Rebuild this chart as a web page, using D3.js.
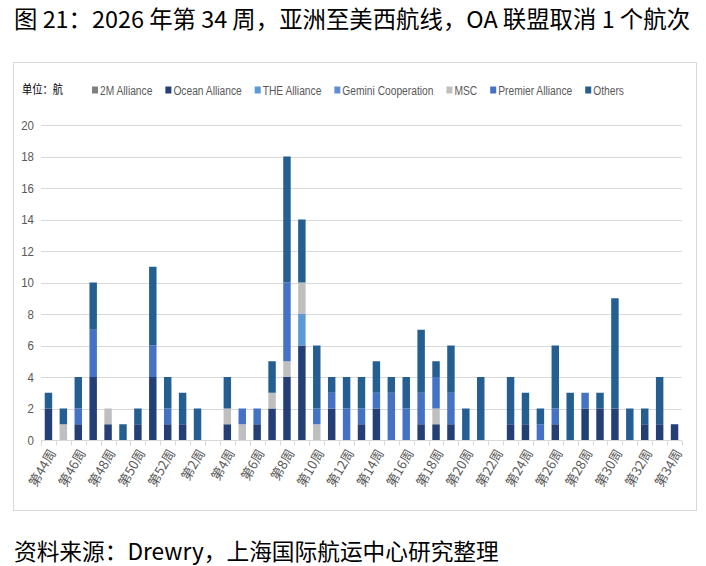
<!DOCTYPE html>
<html>
<head>
<meta charset="utf-8">
<script src="https://cdn.jsdelivr.net/npm/d3@7"></script>
<style>
  body { margin: 0; background: #fff; }
  svg { display: block; }
</style>
</head>
<body>
<div id="chart"></div>
<script>
// weeks 44-52 of 2025, then 1-34 of 2026
const weeks = ["第44周","第45周","第46周","第47周","第48周","第49周","第50周","第51周","第52周",
  "第1周","第2周","第3周","第4周","第5周","第6周","第7周","第8周","第9周","第10周","第11周",
  "第12周","第13周","第14周","第15周","第16周","第17周","第18周","第19周","第20周","第21周",
  "第22周","第23周","第24周","第25周","第26周","第27周","第28周","第29周","第30周","第31周",
  "第32周","第33周","第34周"]

const seriesNames = ["2M Alliance", "Ocean Alliance", "THE Alliance", "Gemini Cooperation", "MSC", "Premier Alliance", "Others"]
const seriesColors = ["#7f7f7f", "#233f75", "#5b9bd5", "#5f8fd1", "#bfbfbf", "#4472c4", "#255e91"]

// blank sailings per alliance
const m2 =      [0,0,0,0,0,0,0,0,0, 0,0,0,0,0,0,0,0,0,0,0, 0,0,0,0,0,0,0,0,0,0, 0,0,0,0,0,0,0,0,0,0, 0,0,0]
const ocean =   [2,0,1,4,1,0,1,4,1, 1,0,0,1,0,1,2,4,6,0,2, 0,1,2,0,0,1,1,1,0,0, 0,1,1,0,1,0,2,2,2,0, 1,1,1]
const theAll =  [0,0,0,0,0,0,0,0,0, 0,0,0,0,0,0,0,0,2,0,0, 0,0,0,0,0,0,0,0,0,0, 0,0,0,0,0,0,0,0,0,0, 0,0,0]
const gemini =  [0,0,0,0,0,0,0,0,0, 0,0,0,0,0,0,0,0,0,0,0, 0,0,0,0,0,0,0,0,0,0, 0,0,0,0,0,0,0,0,0,0, 0,0,0]
const msc =     [0,1,0,0,1,0,0,0,0, 0,0,0,1,1,0,1,1,2,1,0, 0,0,0,0,0,0,1,0,0,0, 0,0,0,0,0,0,0,0,0,0, 0,0,0]
const premier = [0,0,1,3,0,0,0,2,1, 0,0,0,0,1,1,0,5,0,1,1, 2,1,1,3,2,2,2,2,0,0, 0,0,0,1,1,0,1,0,0,0, 0,0,0]
const others =  [1,1,2,3,0,1,1,5,2, 2,2,0,2,0,0,2,8,4,4,1, 2,2,2,1,2,4,1,3,2,4, 0,3,2,1,4,3,0,1,7,2, 1,3,0]

const yTicks = [0, 2, 4, 6, 8, 10, 12, 14, 16, 18, 20]

const allSeries = [m2, ocean, theAll, gemini, msc, premier, others]

const width = 706
const height = 566
const margin = { left: 41, right: 24, top: 125, bottom: 126 }

const svg = d3.select("#chart").append("svg")
  .attr("width", width)
  .attr("height", height)

const cjk = "'Noto Sans CJK SC', 'Noto Sans', sans-serif"
const sans = "'Liberation Sans', Arial, sans-serif"

// no narrow font installed, so squeeze the latin labels a bit
function squeeze(sel, k) {
  sel.each(function () {
    const w = this.getComputedTextLength()
    d3.select(this).attr("textLength", w * k).attr("lengthAdjust", "spacingAndGlyphs")
  })
}

// title + source line
svg.append("text")
  .attr("x", 14).attr("y", 28)
  .style("font-family", cjk).style("font-size", "23.4px").style("fill", "#000")
  .text("图 21：2026 年第 34 周，亚洲至美西航线，OA 联盟取消 1 个航次")

svg.append("text")
  .attr("x", 14).attr("y", 560)
  .style("font-family", cjk).style("font-size", "22.7px").style("fill", "#000")
  .text("资料来源：Drewry，上海国际航运中心研究整理")

// frame around the chart
svg.append("rect")
  .attr("x", 13.5).attr("y", 62.5)
  .attr("width", 683).attr("height", 448)
  .attr("fill", "none").attr("stroke", "#d9d9d9")

// build table for the stack
const table = weeks.map((w, i) => {
  const row = { week: w }
  seriesNames.forEach((s, j) => { row[s] = allSeries[j][i] })
  return row
})
const stacked = d3.stack().keys(seriesNames)(table)

const x = d3.scaleBand()
  .domain(weeks)
  .range([margin.left, width - margin.right])
  .paddingInner(0.5).paddingOuter(0.25)

const y = d3.scaleLinear()
  .domain([0, 20])
  .range([height - margin.bottom, margin.top])

// grid lines
svg.append("g")
  .selectAll("line")
  .data(yTicks.filter(d => d > 0))
  .join("line")
  .attr("x1", margin.left).attr("x2", width - margin.right)
  .attr("y1", d => Math.round(y(d)) + 0.5).attr("y2", d => Math.round(y(d)) + 0.5)
  .attr("stroke", "#d9d9d9")

// y labels
svg.append("g")
  .selectAll("text")
  .data(yTicks)
  .join("text")
  .attr("x", 34)
  .attr("y", d => y(d))
  .attr("dy", "0.35em")
  .attr("text-anchor", "end")
  .style("font-family", sans).style("font-size", "13.5px").style("fill", "#595959")
  .text(d => d)
  .call(squeeze, 0.85)

// bars
svg.append("g")
  .selectAll("g")
  .data(stacked)
  .join("g")
  .attr("fill", (d, i) => seriesColors[i])
  .selectAll("rect")
  .data(d => d.filter(p => p[1] > p[0]))
  .join("rect")
  .attr("x", d => x(d.data.week))
  .attr("y", d => y(d[1]))
  .attr("width", x.bandwidth())
  .attr("height", d => y(d[0]) - y(d[1]))

// x axis line + ticks between categories
const axisY = Math.round(y(0)) + 0.5
svg.append("line")
  .attr("x1", margin.left).attr("x2", width - margin.right)
  .attr("y1", axisY).attr("y2", axisY)
  .attr("stroke", "#d9d9d9")

const boundaries = d3.range(weeks.length + 1).map(i => margin.left + i * (width - margin.left - margin.right) / weeks.length)
svg.append("g")
  .selectAll("line")
  .data(boundaries)
  .join("line")
  .attr("x1", d => Math.round(d) + 0.5).attr("x2", d => Math.round(d) + 0.5)
  .attr("y1", axisY).attr("y2", axisY + 5)
  .attr("stroke", "#d9d9d9")

// every other week label, rotated
svg.append("g")
  .selectAll("text")
  .data(weeks.filter((w, i) => i % 2 === 0))
  .join("text")
  .attr("transform", d => `translate(${x(d) + x.bandwidth() / 2 + 4},${axisY + 10}) rotate(-60)`)
  .attr("text-anchor", "end")
  .attr("dy", "0.35em")
  .style("font-family", cjk).style("font-size", "13px").style("fill", "#595959")
  .text(d => d)

// legend
const legend = svg.append("g").attr("transform", "translate(0,90)")
legend.append("text")
  .attr("x", 22).attr("dy", "0.35em")
  .style("font-family", cjk).style("font-size", "12px").style("fill", "#000")
  .text("单位：航")
  .attr("textLength", 41).attr("lengthAdjust", "spacingAndGlyphs")

// legend text squeezed with a transform so its box really shrinks
const squeezeK = 0.76
let lx = 92
seriesNames.forEach((s, i) => {
  legend.append("rect")
    .attr("x", lx).attr("y", -3.5)
    .attr("width", 6).attr("height", 7)
    .attr("fill", seriesColors[i])
  const t = legend.append("g")
    .attr("transform", `translate(${lx + 8},0) scale(${squeezeK},1)`)
    .append("text")
    .attr("dy", "0.35em")
    .style("font-family", sans).style("font-size", "13.5px").style("fill", "#595959")
    .text(s)
  lx += 8 + t.node().getComputedTextLength() * squeezeK + 13
})
</script>
</body>
</html>
